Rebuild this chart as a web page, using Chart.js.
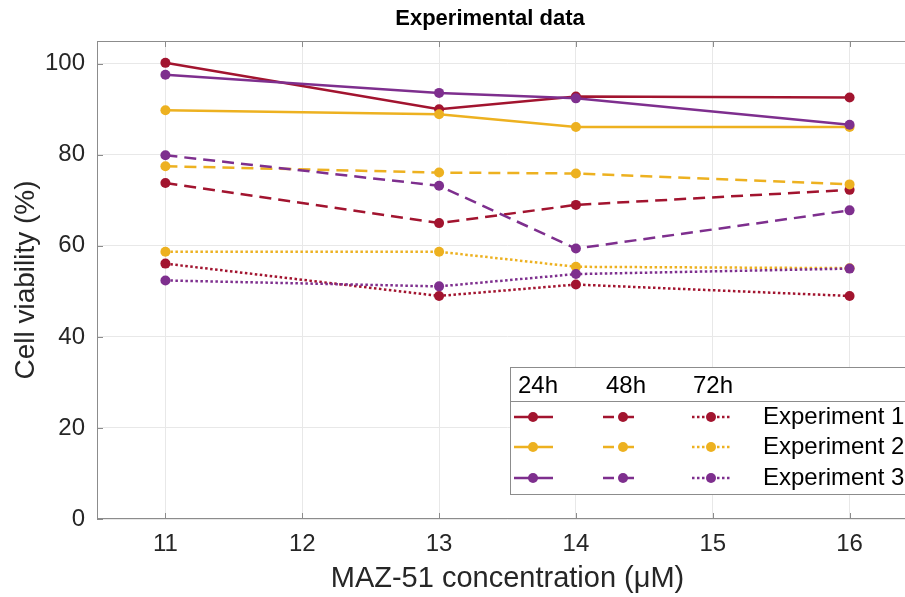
<!DOCTYPE html>
<html>
<head>
<meta charset="utf-8">
<script src="https://cdn.jsdelivr.net/npm/chart.js@4"></script>
<style>
  html, body { margin: 0; padding: 0; background: #fff; overflow: hidden; }
  #wrap { width: 925px; height: 597px; }
</style>
</head>
<body>
<div id="wrap"><canvas id="viability-chart" width="925" height="597"></canvas></div>
<script>
// Data
const concentrations = [11, 13, 14, 16];
const xTicks = [11, 12, 13, 14, 15, 16];
const yTicks = [0, 20, 40, 60, 80, 100];
const timepoints = ["24h", "48h", "72h"];
const experiments = ["Experiment 1", "Experiment 2", "Experiment 3"];

const exp1_24h = [100.2, 90.0, 92.8, 92.6];
const exp2_24h = [89.8, 88.9, 86.1, 86.1];
const exp3_24h = [97.6, 93.6, 92.4, 86.6];
const exp1_48h = [73.8, 65.0, 69.0, 72.3];
const exp2_48h = [77.5, 76.1, 75.9, 73.5];
const exp3_48h = [79.9, 73.2, 59.4, 67.8];
const exp1_72h = [56.1, 49.0, 51.5, 49.0];
const exp2_72h = [58.7, 58.7, 55.4, 55.1];
const exp3_72h = [52.4, 51.1, 53.8, 55.0];

const colors = ["#A2142F", "#EDB120", "#7E2F8E"];
const dashes = [[], [12, 7], [2.5, 2.5]];
const FONT = "'Liberation Sans', Arial, Helvetica, sans-serif";

const seriesTable = [
  [exp1_24h, exp1_48h, exp1_72h],
  [exp2_24h, exp2_48h, exp2_72h],
  [exp3_24h, exp3_48h, exp3_72h],
];

function buildDatasets() {
  const out = [];
  let order = 100;
  timepoints.forEach((tp, t) => {
    experiments.forEach((ex, e) => {
      const values = seriesTable[e][t];
      out.push({
        label: ex + " " + tp,
        data: concentrations.map((c, i) => ({ x: c, y: values[i] })),
        borderColor: colors[e],
        backgroundColor: colors[e],
        borderWidth: 2.5,
        borderDash: dashes[t],
        pointRadius: 5,
        pointHoverRadius: 5,
        pointBorderWidth: 0,
        pointBackgroundColor: colors[e],
        tension: 0,
        fill: false,
        order: order--
      });
    });
  });
  return out;
}

// Frame, inward ticks, titles and the grid-style legend
const decorations = {
  id: "decorations",
  afterDatasetsDraw(chart) {
    const ctx = chart.ctx;
    const a = chart.chartArea;
    const xs = chart.scales.x, ys = chart.scales.y;
    ctx.save();
    ctx.strokeStyle = "#8c8c8c";
    ctx.lineWidth = 1;
    ctx.strokeRect(a.left + 0.5, a.top + 0.5, a.right - a.left - 1, a.bottom - a.top - 1);
    ctx.beginPath();
    xTicks.forEach(v => {
      const px = Math.round(xs.getPixelForValue(v)) + 0.5;
      ctx.moveTo(px, a.bottom); ctx.lineTo(px, a.bottom - 6);
      ctx.moveTo(px, a.top); ctx.lineTo(px, a.top + 6);
    });
    yTicks.forEach(v => {
      const py = Math.round(ys.getPixelForValue(v)) + 0.5;
      ctx.moveTo(a.left, py); ctx.lineTo(a.left + 6, py);
      ctx.moveTo(a.right, py); ctx.lineTo(a.right - 6, py);
    });
    ctx.stroke();

    // titles
    ctx.fillStyle = "#000";
    ctx.textAlign = "center";
    ctx.textBaseline = "middle";
    ctx.font = "bold 22px " + FONT;
    ctx.fillText("Experimental data", 490, 19);
    ctx.fillStyle = "#262626";
    ctx.font = "29px " + FONT;
    ctx.fillText("MAZ-51 concentration (\u03bcM)", (a.left + a.right) / 2, 579);
    ctx.save();
    ctx.translate(26, (a.top + a.bottom) / 2);
    ctx.rotate(-Math.PI / 2);
    ctx.font = "28px " + FONT;
    ctx.fillText("Cell viability (%)", 0, 0);
    ctx.restore();

    // legend box
    const lx = 510, ly = 367, lw = 420, lh = 127;
    ctx.fillStyle = "#fff";
    ctx.fillRect(lx, ly, lw, lh);
    ctx.strokeStyle = "#8c8c8c";
    ctx.strokeRect(lx + 0.5, ly + 0.5, lw, lh);
    ctx.beginPath();
    ctx.moveTo(lx, 401.5); ctx.lineTo(lx + lw, 401.5);
    ctx.stroke();

    ctx.fillStyle = "#000";
    ctx.textAlign = "left";
    ctx.font = "24px " + FONT;
    const colX = [[514, 553, 533], [603, 634, 623], [692, 732, 711]];
    const headX = [518, 606, 693];
    timepoints.forEach((tp, t) => ctx.fillText(tp, headX[t], 386));
    const rowY = [417, 447, 478];
    experiments.forEach((ex, e) => {
      ctx.fillStyle = "#000";
      ctx.fillText(ex, 763, rowY[e]);
      timepoints.forEach((tp, t) => {
        const c = colX[t];
        ctx.strokeStyle = colors[e];
        ctx.lineWidth = 2.5;
        ctx.beginPath();
        if (t === 1) {
          ctx.moveTo(c[0], rowY[e]); ctx.lineTo(c[0] + 11, rowY[e]);
          ctx.moveTo(c[1] - 11, rowY[e]); ctx.lineTo(c[1], rowY[e]);
        } else {
          ctx.setLineDash(dashes[t]);
          ctx.moveTo(c[0], rowY[e]); ctx.lineTo(c[1], rowY[e]);
        }
        ctx.stroke();
        ctx.setLineDash([]);
        ctx.fillStyle = colors[e];
        ctx.beginPath();
        ctx.arc(c[2], rowY[e], 5, 0, Math.PI * 2);
        ctx.fill();
      });
    });
    ctx.restore();
  }
};

const whiteBg = {
  id: "whiteBg",
  beforeDraw(chart) {
    const ctx = chart.ctx;
    ctx.save();
    ctx.fillStyle = "#fff";
    ctx.fillRect(0, 0, chart.width, chart.height);
    ctx.restore();
  }
};

function initViabilityChart() {
  const ctx = document.getElementById("viability-chart").getContext("2d");
  new Chart(ctx, {
    type: "line",
    data: { datasets: buildDatasets() },
    options: {
      responsive: false,
      animation: false,
      events: [],
      layout: { padding: { left: 0, top: 41, right: 7, bottom: 0 } },
      plugins: {
        legend: { display: false },
        title: { display: false },
        tooltip: { enabled: false }
      },
      scales: {
        x: {
          type: "linear",
          min: 10.5,
          max: 16.5,
          afterFit(scale) { scale.height = 78; },
          afterBuildTicks(scale) { scale.ticks = xTicks.map(v => ({ value: v })); },
          grid: { color: "#e8e8e8", drawTicks: false },
          border: { display: false },
          ticks: {
            color: "#262626",
            padding: 11,
            font: { family: FONT, size: 24 },
            maxRotation: 0
          }
        },
        y: {
          min: 0,
          max: 105,
          afterFit(scale) { scale.width = 97; },
          afterBuildTicks(scale) { scale.ticks = yTicks.map(v => ({ value: v })); },
          grid: { color: "#e8e8e8", drawTicks: false },
          border: { display: false },
          ticks: {
            color: "#262626",
            padding: 12,
            font: { family: FONT, size: 24 }
          }
        }
      }
    },
    plugins: [whiteBg, decorations]
  });
}

document.addEventListener("DOMContentLoaded", function() {
  initViabilityChart();
});
</script>
</body>
</html>
